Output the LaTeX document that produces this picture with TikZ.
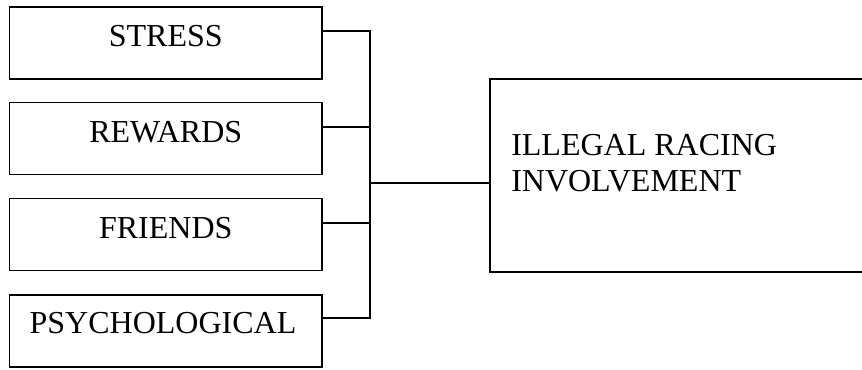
\documentclass[tikz,border=0pt]{standalone}
\usepackage{fontspec}
\setmainfont{Liberation Serif}
\begin{document}
\begin{tikzpicture}[x=0.75pt,y=-0.75pt,
  box/.style={draw=black,line width=1.4pt,rectangle,inner sep=0pt,minimum width=234.4pt,minimum height=54pt},
  bigbox/.style={draw=black,line width=1.4pt,rectangle,inner sep=0pt,minimum width=285pt,minimum height=144.75pt},
  lbl/.style={inner sep=0pt,anchor=base,font=\fontsize{24}{28}\selectfont},
  rlbl/.style={inner sep=0pt,anchor=base west,font=\fontsize{24}{28}\selectfont},
  conn/.style={draw=black,line width=1.4pt}]
\useasboundingbox (0,0) rectangle (862,369);
\clip (0,0) rectangle (862,369);
\node[box] (s) at (165.75,42.75) {};
\node[box] (r) at (165.75,138.5) {};
\node[box] (f) at (165.75,234.5) {};
\node[box] (p) at (165.75,331) {};
\node[lbl] (ts) at (165.75,46.7) {STRESS};
\node[lbl] (tr) at (165.75,142) {REWARDS};
\node[lbl] (tf) at (165.75,238.3) {FRIENDS};
\node[lbl] (tp) at (163,333) {PSYCHOLOGICAL};
\node[bigbox] (ir) at (680,175.5) {};
\node[rlbl] (ti1) at (511,155) {ILLEGAL RACING};
\node[rlbl] (ti2) at (511,191.7) {INVOLVEMENT};
\coordinate (j1) at (370,31);
\coordinate (j2) at (370,127);
\coordinate (j3) at (370,223);
\coordinate (j4) at (370,318);
\coordinate (jm) at (370,183);
\draw[conn] (s.east |- j1) -- (j1) -- (j4) -- (p.east |- j4);
\draw[conn] (r.east |- j2) -- (j2);
\draw[conn] (f.east |- j3) -- (j3);
\draw[conn] (jm) -- (ir.west |- jm);
\end{tikzpicture}
\end{document}
